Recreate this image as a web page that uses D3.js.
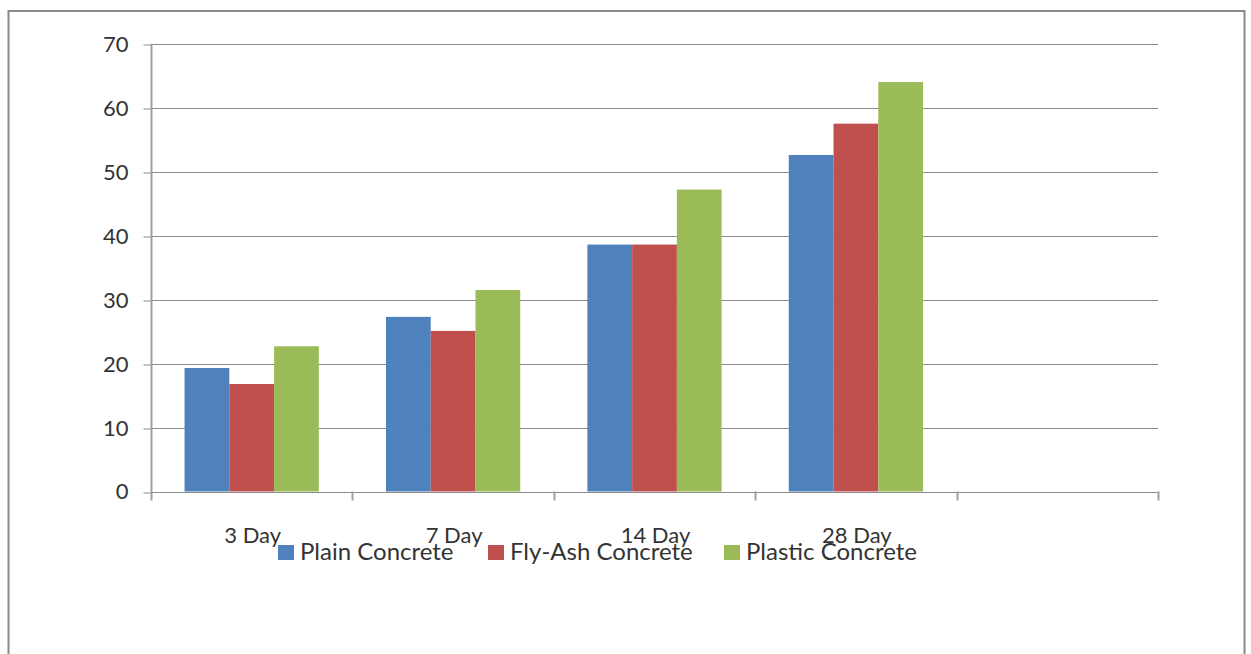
<!DOCTYPE html>
<html>
<head>
<meta charset="utf-8">
<script src="https://cdn.jsdelivr.net/npm/d3@7"></script>
<style>
  html, body { margin: 0; padding: 0; background: #fff; }
  svg { display: block; }
  text { font-family: Lato, "Open Sans", sans-serif; fill: #333; }
</style>
</head>
<body>
<svg id="chart" width="1251" height="654"></svg>
<script>
// Compressive strength by curing age
const categories = ["3 Day", "7 Day", "14 Day", "28 Day", ""];
const seriesNames = ["Plain Concrete", "Fly-Ash Concrete", "Plastic Concrete"];
const plainValues = [19.3, 27.3, 38.6, 52.6];
const flyAshValues = [16.8, 25.1, 38.6, 57.5];
const plasticValues = [22.7, 31.5, 47.2, 64.0];
const yTicks = [0, 10, 20, 30, 40, 50, 60, 70];
const colors = ["#4F81BD", "#C0504D", "#9BBB59"];

const seriesValues = [plainValues, flyAshValues, plasticValues];

const svg = d3.select("#chart");

// outer frame
svg.append("rect")
  .attr("x", 8.5).attr("y", 11).attr("width", 1236).attr("height", 660)
  .attr("fill", "none").attr("stroke", "#8a8a8a").attr("stroke-width", 2);

const plot = { left: 151, right: 1158, top: 43.7, bottom: 491.5 };

const x0 = d3.scaleBand().domain(d3.range(categories.length))
  .range([plot.left, plot.right]).paddingInner(0).paddingOuter(0);
const x1 = d3.scaleBand().domain(d3.range(seriesNames.length))
  .range([0, x0.bandwidth()]).paddingInner(0).paddingOuter(0.75);
const y = d3.scaleLinear().domain([0, 70]).range([plot.bottom, plot.top]);

// horizontal gridlines
svg.append("g").selectAll("line").data(yTicks.filter(t => t > 0)).join("line")
  .attr("x1", plot.left).attr("x2", plot.right)
  .attr("y1", d => Math.round(y(d)) + 0.5).attr("y2", d => Math.round(y(d)) + 0.5)
  .attr("stroke", "#8c8c8c").attr("stroke-width", 1);

// y axis
const yAxis = d3.axisLeft(y).tickValues(yTicks).tickSize(8).tickPadding(15).tickSizeOuter(0);
const gy = svg.append("g").attr("transform", `translate(${plot.left + 0.5},0)`)
  .call(yAxis);
gy.select(".domain").remove();
gy.selectAll(".tick line").attr("stroke", "#8c8c8c")
  .attr("transform", d => `translate(0,${Math.round(y(d)) + 0.5 - y(d)})`);
gy.selectAll(".tick text").attr("font-size", 22).attr("font-family", "Lato, sans-serif")
  .attr("fill", "#333").attr("dy", "0.34em");
svg.append("line")
  .attr("x1", plot.left + 0.5).attr("x2", plot.left + 0.5)
  .attr("y1", plot.top).attr("y2", plot.bottom + 9)
  .attr("stroke", "#a0a0a0").attr("stroke-width", 2);

// bars
const groups = svg.append("g").selectAll("g")
  .data(plainValues.map((_, i) => i)).join("g")
  .attr("transform", i => `translate(${x0(i)},0)`);
groups.selectAll("rect")
  .data(i => seriesValues.map((vals, s) => ({ s, v: vals[i] })))
  .join("rect")
  .attr("x", d => x1(d.s))
  .attr("width", x1.bandwidth())
  .attr("y", d => y(d.v))
  .attr("height", d => y(0) - y(d.v))
  .attr("fill", d => colors[d.s]);

// x axis baseline and ticks at category boundaries
const gx = svg.append("g");
gx.append("line")
  .attr("x1", plot.left).attr("x2", plot.right)
  .attr("y1", Math.round(plot.bottom) + 0.5).attr("y2", Math.round(plot.bottom) + 0.5)
  .attr("stroke", "#8c8c8c");
const boundaries = d3.range(categories.length + 1).map(i =>
  i < categories.length ? x0(i) : x0(categories.length - 1) + x0.bandwidth());
gx.selectAll("line.tick").data(boundaries.slice(1)).join("line")
  .attr("class", "tick")
  .attr("x1", d => Math.round(d) + 0.5).attr("x2", d => Math.round(d) + 0.5)
  .attr("y1", plot.bottom).attr("y2", plot.bottom + 9)
  .attr("stroke", "#a0a0a0").attr("stroke-width", 2);
gx.selectAll("text").data(categories).join("text")
  .attr("x", (d, i) => x0(i) + x0.bandwidth() / 2 + 1)
  .attr("y", 543)
  .attr("text-anchor", "middle")
  .attr("font-size", 22)
  .text(d => d);

// legend
const legendX = [278, 488, 724];
const legend = svg.append("g").selectAll("g").data(seriesNames).join("g")
  .attr("transform", (d, i) => `translate(${legendX[i]},545)`);
legend.append("rect").attr("width", 16).attr("height", 15)
  .attr("fill", (d, i) => colors[i]);
legend.append("text").attr("x", 22).attr("y", 15)
  .attr("font-size", 24).text(d => d);
</script>
</body>
</html>
